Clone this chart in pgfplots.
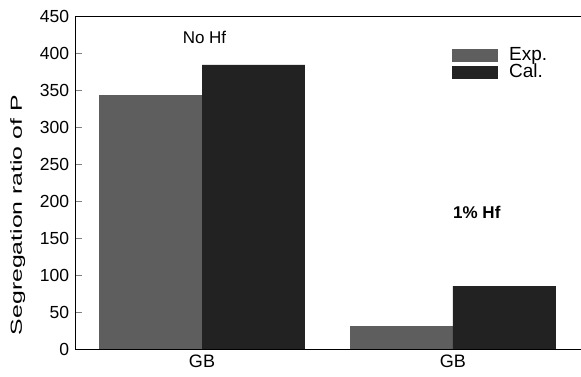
\documentclass[border=0pt]{standalone}
\usepackage{pgfplots}
\pgfplotsset{compat=1.18}
\usepackage{fontspec}
\setmainfont{Liberation Sans}
\definecolor{expc}{HTML}{5E5E5E}
\definecolor{calc}{HTML}{222222}
\begin{document}
\fontsize{17pt}{19pt}\selectfont
\begin{tikzpicture}
\useasboundingbox (-75pt,-28pt) rectangle (506pt,349pt);
\begin{axis}[
  at={(0pt,0pt)}, anchor=south west,
  scale only axis, width=506pt, height=333pt,
  xmin=-0.506, xmax=1.51, ymin=0, ymax=450,
  xtick={0,1}, xticklabels={GB,GB},
  major x tick style={draw=none},
  extra x ticks={0.5}, extra x tick labels={},
  extra x tick style={major tick length=5pt},
  ytick={0,50,...,450},
  xtick pos=bottom, ytick pos=left,
  tick align=inside, major tick length=7pt,
  /pgf/number format/assume math mode=true,
  ticklabel style={font=\fontsize{17.5pt}{19pt}\selectfont},
  xticklabel style={font=\fontsize{18pt}{20pt}\selectfont},
  ylabel={\scalebox{1.55}[1]{Segregation ratio of P}},
  ylabel style={at={(axis description cs:-0.113,0.402)}, anchor=center, font=\fontsize{16pt}{18pt}\selectfont},
  axis line style={line width=0.8pt},
  legend style={draw=none, fill=none, at={(0.745,0.912)}, anchor=north west,
    font=\fontsize{19pt}{21pt}\selectfont, row sep=-3pt, column sep=9pt, inner sep=0pt},
  legend cell align=left,
  clip=false,
]
\addplot[ybar, bar width=0.41, bar shift=-0.205, fill=expc, draw=none,
  legend image code/.code={\fill[expc] (0pt,-6.5pt) rectangle (46pt,6.5pt);}]
  coordinates {(0,343) (1,31)};
\addlegendentry{Exp.}
\addplot[ybar, bar width=0.41, bar shift=0.205, fill=calc, draw=none,
  legend image code/.code={\fill[calc] (0pt,-6.5pt) rectangle (46pt,6.5pt);}]
  coordinates {(0,384) (1,85)};
\addlegendentry{Cal.}
\node[font=\fontsize{17pt}{19pt}\selectfont] at (axis cs:0.01,421) {No Hf};
\node[font=\fontsize{17pt}{19pt}\selectfont\bfseries] at (axis cs:1.095,184) {1\% Hf};
\end{axis}
\end{tikzpicture}
\end{document}
